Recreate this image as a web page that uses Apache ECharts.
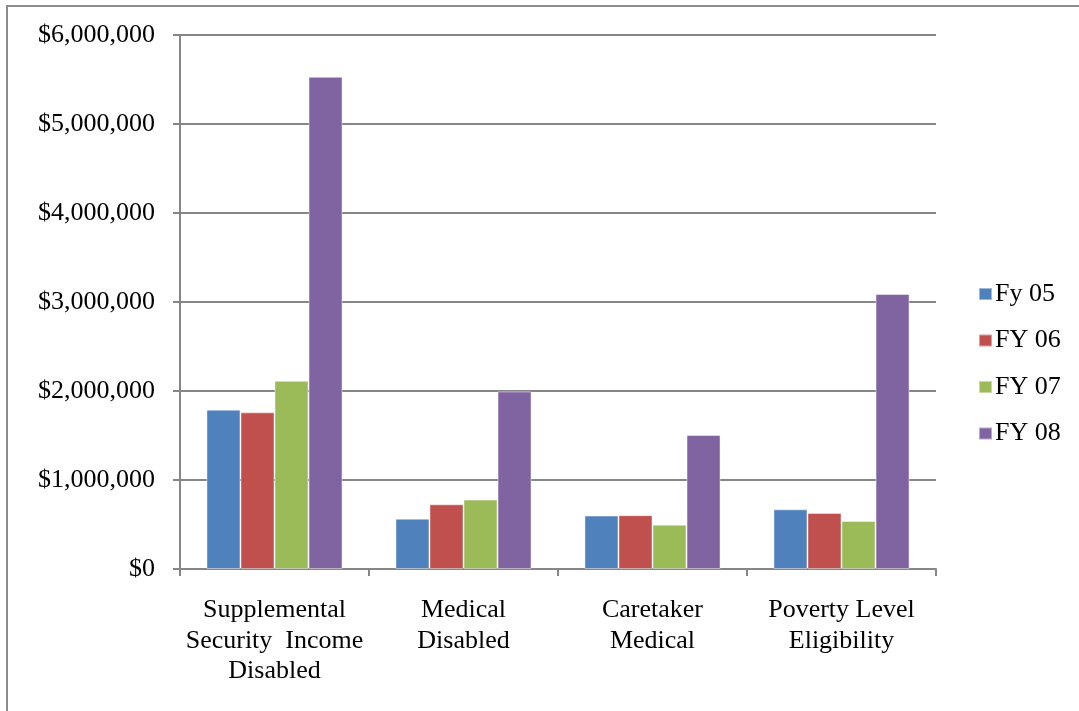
<!DOCTYPE html>
<html>
<head>
<meta charset="utf-8">
<script src="https://cdn.jsdelivr.net/npm/echarts@6/dist/echarts.min.js"></script>
<style>
  html, body { margin: 0; padding: 0; background: #fff; }
  #chart { width: 1079px; height: 711px; }
</style>
</head>
<body>
<div id="chart"></div>
<script>
// Program categories (line breaks as printed under the axis)
const categories = [
  'Supplemental\nSecurity  Income\nDisabled',
  'Medical\nDisabled',
  'Caretaker\nMedical',
  'Poverty Level\nEligibility'
];
const seriesNames = ['Fy 05', 'FY 06', 'FY 07', 'FY 08'];
const fy05 = [1790000, 565000, 600000, 670000];
const fy06 = [1760000, 727000, 605000, 630000];
const fy07 = [2115000, 780000, 498000, 540000];
const fy08 = [5530000, 1995000, 1505000, 3090000];
const yTicks = [0, 1000000, 2000000, 3000000, 4000000, 5000000, 6000000];
const colors = ['#4F81BD', '#C0504D', '#9BBB59', '#8064A2'];

const font = '"Liberation Serif", "Times New Roman", serif';
const values = [fy05, fy06, fy07, fy08];

const chart = echarts.init(document.getElementById('chart'), null, { renderer: 'canvas' });
chart.setOption({
  animation: false,
  backgroundColor: '#ffffff',
  textStyle: { fontFamily: font, color: '#000' },
  graphic: [{
    type: 'rect',
    shape: { x: 7, y: 6, width: 1200, height: 900 },
    style: { fill: 'none', stroke: '#8c8c8c', lineWidth: 2 },
    silent: true
  }],
  legend: {
    orient: 'vertical',
    left: 978,
    top: 281,
    padding: 0,
    itemWidth: 13,
    itemHeight: 12,
    itemGap: 20.5,
    icon: 'rect',
    textStyle: { fontFamily: font, fontSize: 26, color: '#000', lineHeight: 24, padding: [0, 0, 0, -2] },
    data: seriesNames
  },
  grid: { left: 180, right: 143, top: 35, bottom: 142, containLabel: false },
  xAxis: {
    type: 'category',
    data: categories,
    axisLine: { lineStyle: { color: '#868686', width: 2 } },
    axisTick: { show: true, length: 7, lineStyle: { color: '#868686', width: 2 } },
    axisLabel: {
      fontFamily: font, fontSize: 26, color: '#000', lineHeight: 30.5,
      margin: 26, interval: 0, align: 'center'
    }
  },
  yAxis: {
    type: 'value',
    min: yTicks[0],
    max: yTicks[yTicks.length - 1],
    interval: yTicks[1] - yTicks[0],
    axisLine: { show: true, lineStyle: { color: '#868686', width: 2 } },
    axisTick: { show: true, length: 7, lineStyle: { color: '#868686', width: 2 } },
    splitLine: { lineStyle: { color: '#868686', width: 2 } },
    axisLabel: {
      fontFamily: font, fontSize: 26, color: '#000', margin: 25,
      formatter: v => '$' + v.toLocaleString('en-US')
    }
  },
  series: seriesNames.map((name, i) => ({
    name,
    type: 'bar',
    data: values[i],
    barGap: '0%',
    barCategoryGap: '28%',
    itemStyle: { color: colors[i], borderColor: 'rgba(255,255,255,0.45)', borderWidth: 1 }
  }))
});
</script>
</body>
</html>
